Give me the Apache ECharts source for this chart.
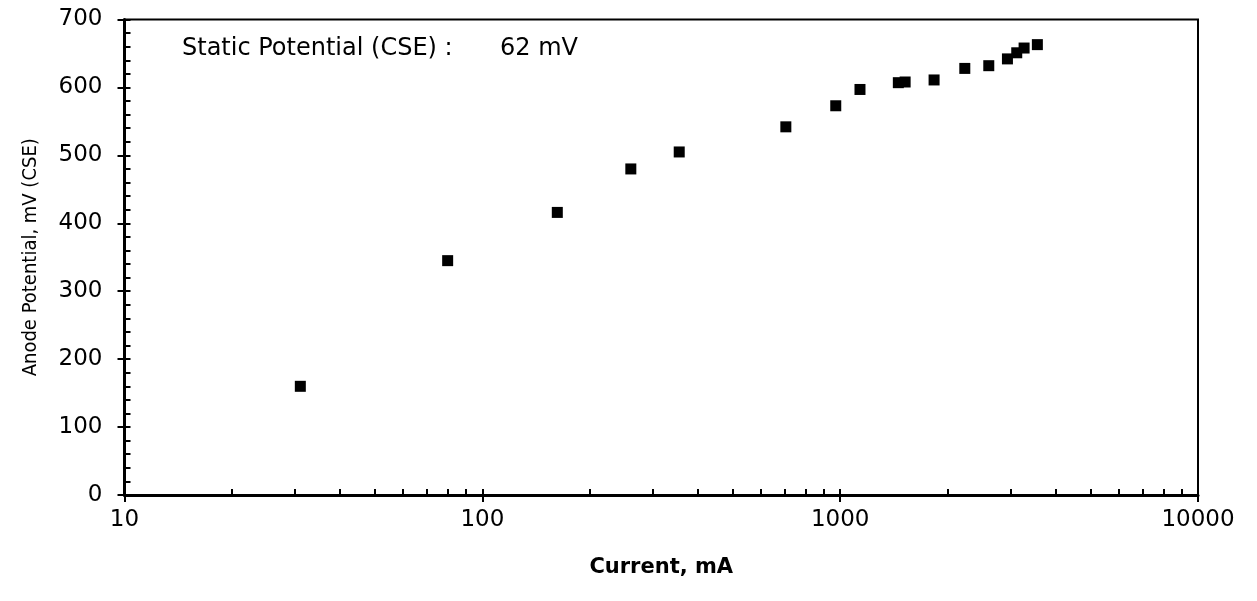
<!DOCTYPE html>
<html>
<head>
<meta charset="utf-8">
<title>Anode Potential vs Current</title>
<script src="https://cdn.jsdelivr.net/npm/echarts@6/dist/echarts.min.js"></script>
<style>
  html, body { margin: 0; padding: 0; background: #fff; }
  #chart { width: 1257px; height: 601px; }
</style>
</head>
<body>
<div id="chart"></div>
<script>
// Current in mA (log axis) and anode potential in mV (CSE)
const currentMA = [31, 80, 162, 260, 355, 705, 972, 1136, 1454, 1519, 1830, 2230, 2602, 2934, 3115, 3266, 3557];
const potentialMV = [160, 345, 416, 480, 505, 542, 573, 597, 607, 608, 611, 628, 632, 642, 651, 658, 663];

const xMajorTicks = [10, 100, 1000, 10000];
const xMinorTicks = [
  20, 30, 40, 50, 60, 70, 80, 90,
  200, 300, 400, 500, 600, 700, 800, 900,
  2000, 3000, 4000, 5000, 6000, 7000, 8000, 9000
];
const yMinorTicks = [
  0, 20, 40, 60, 80, 100, 120, 140, 160, 180, 200, 220, 240, 260, 280, 300,
  320, 340, 360, 380, 400, 420, 440, 460, 480, 500, 520, 540, 560, 580, 600,
  620, 640, 660, 680, 700
];

const staticLabel = 'Static Potential (CSE) :';
const staticValue = '62 mV';

const FONT = 'DejaVu Sans';
const chart = echarts.init(document.getElementById('chart'));

const pts = currentMA.map((c, i) => [c, potentialMV[i]]);

const option = {
  backgroundColor: '#fff',
  animation: false,
  grid: {
    show: true,
    left: 124.5,
    right: 59,
    top: 19.5,
    bottom: 106,
    borderColor: '#000',
    borderWidth: 2,
    backgroundColor: 'transparent'
  },
  graphic: [
    {
      type: 'text',
      left: 182,
      top: 37,
      style: { text: staticLabel, fill: '#000', font: '24px "' + FONT + '"' }
    },
    {
      type: 'text',
      left: 500,
      top: 37,
      style: { text: staticValue, fill: '#000', font: '24px "' + FONT + '"' }
    }
  ],
  xAxis: [
    {
      type: 'log',
      logBase: 10,
      min: 10,
      max: 10000,
      position: 'bottom',
      name: 'Current, mA',
      nameLocation: 'middle',
      nameGap: 62,
      nameTextStyle: { color: '#000', fontFamily: FONT, fontWeight: 'bold', fontSize: 21 },
      axisLine: { lineStyle: { color: '#000', width: 3 } },
      axisTick: { show: true, length: 7, lineStyle: { color: '#000', width: 2 } },
      axisLabel: {
        color: '#000',
        fontFamily: FONT,
        fontSize: 23,
        margin: 14,
        formatter: v => String(v)
      },
      splitLine: { show: false }
    },
    {
      // minor ticks pointing into the plot
      type: 'log',
      logBase: 10,
      min: 10,
      max: 10000,
      position: 'bottom',
      offset: 0,
      axisLine: { show: false },
      axisLabel: { show: false },
      splitLine: { show: false },
      axisTick: {
        show: true,
        inside: true,
        length: 6,
        customValues: xMajorTicks.concat(xMinorTicks),
        lineStyle: { color: '#000', width: 2 }
      }
    }
  ],
  yAxis: [
    {
      type: 'value',
      min: 0,
      max: 700,
      interval: 100,
      position: 'left',
      name: 'Anode Potential, mV (CSE)',
      nameLocation: 'middle',
      nameGap: 84,
      nameTextStyle: {
        color: '#000',
        fontFamily: '"DejaVu Sans Condensed", "Liberation Sans Narrow", "DejaVu Sans"',
        fontSize: 20
      },
      axisLine: { show: true, lineStyle: { color: '#000', width: 3 } },
      axisTick: { show: true, length: 7, lineStyle: { color: '#000', width: 2 } },
      axisLabel: { color: '#000', fontFamily: FONT, fontSize: 23, margin: 22 },
      splitLine: { show: false }
    },
    {
      type: 'value',
      min: 0,
      max: 700,
      position: 'left',
      offset: 0,
      axisLine: { show: false },
      axisLabel: { show: false },
      splitLine: { show: false },
      axisTick: {
        show: true,
        inside: true,
        length: 6,
        customValues: yMinorTicks,
        lineStyle: { color: '#000', width: 2 }
      }
    }
  ],
  series: [
    {
      type: 'scatter',
      xAxisIndex: 0,
      yAxisIndex: 0,
      data: pts,
      symbol: 'rect',
      symbolSize: 11,
      itemStyle: { color: '#000', opacity: 1 }
    }
  ]
};

chart.setOption(option);
</script>
</body>
</html>
